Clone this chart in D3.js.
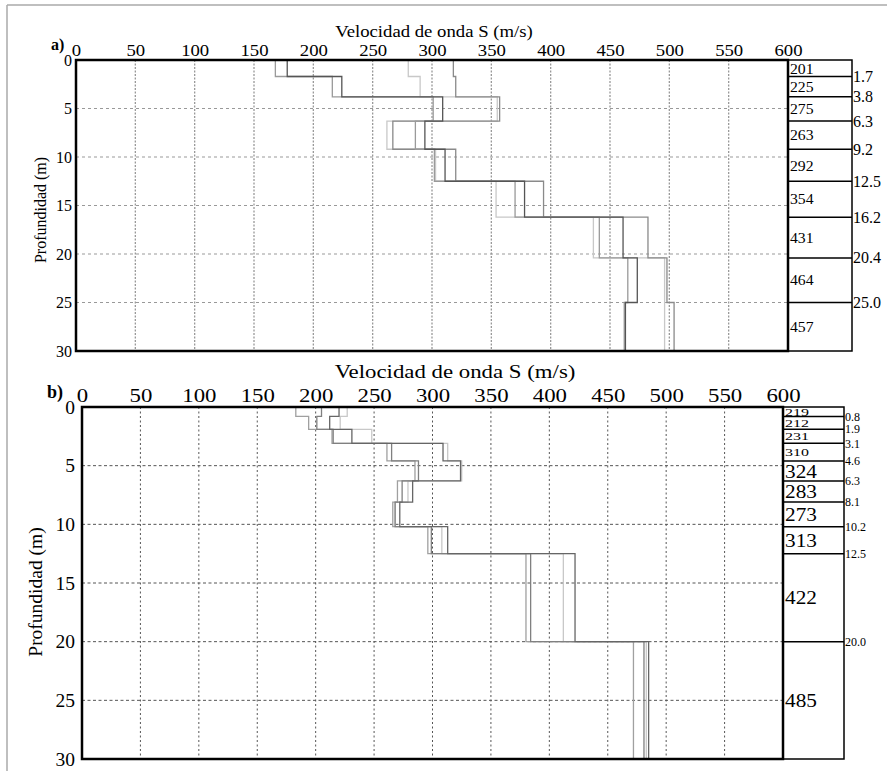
<!DOCTYPE html>
<html>
<head>
<meta charset="utf-8">
<script src="https://cdn.jsdelivr.net/npm/d3@7"></script>
<style>
  body { margin: 0; background: #fff; }
  svg text { font-family: "Liberation Serif", "Times New Roman", "DejaVu Serif", serif; }
</style>
</head>
<body>
<div id="chart"></div>
<script>
// ---- data ----
var xTicks = [0, 50, 100, 150, 200, 250, 300, 350, 400, 450, 500, 550, 600];
var yTicks = [0, 5, 10, 15, 20, 25, 30];

// panel a) layer tops/bottoms (m) and mean velocities
var depthsA = [0, 1.7, 3.8, 6.3, 9.2, 12.5, 16.2, 20.4, 25.0, 30];
var depthLabelsA = ["1.7", "3.8", "6.3", "9.2", "12.5", "16.2", "20.4", "25.0"];
var meanA = [201, 225, 275, 263, 292, 354, 431, 464, 457];
// individual profiles
var profA1 = [178, 224, 309, 294, 311, 378, 461, 473, 463];
var profA2 = [168, 216, 301, 286, 302, 370, 441, 465, 462];
var profA3 = [318, 320, 357, 267, 320, 394, 482, 498, 504];
var profA4 = [280, 290, 355, 262, 303, 354, 436, 496, 496];

// panel b)
var depthsB = [0, 0.8, 1.9, 3.1, 4.6, 6.3, 8.1, 10.2, 12.5, 20.0, 30];
var depthLabelsB = ["0.8", "1.9", "3.1", "4.6", "6.3", "8.1", "10.2", "12.5", "20.0"];
var meanB = [219, 212, 231, 310, 324, 283, 273, 313, 422, 485];
var profB1 = [205, 201, 215, 265, 288, 274, 268, 299, 384, 481];
var profB2 = [220, 212, 231, 309, 324, 283, 272, 313, 422, 485];
var profB3 = [183, 194, 214, 261, 285, 270, 266, 296, 380, 472];
var profB4 = [227, 221, 248, 313, 325, 279, 268, 308, 412, 483];

var W = 887, H = 771;
var FONT = "Liberation Serif";
var svg = d3.select("#chart").append("svg").attr("width", W).attr("height", H)
  .attr("font-family", FONT);

// light outer frame (top and left only, as in the scan)
svg.append("line").attr("x1", 7).attr("x2", W).attr("y1", 5).attr("y2", 5)
   .attr("stroke", "#aaa").attr("stroke-width", 1.5);
svg.append("line").attr("x1", 7).attr("x2", 7).attr("y1", 5).attr("y2", H)
   .attr("stroke", "#aaa").attr("stroke-width", 1.5);

function stepPoints(prof, depths) {
  var pts = [];
  prof.forEach(function(v, i) {
    pts.push([v, depths[i]]);
    pts.push([v, depths[i + 1]]);
  });
  return pts;
}

// the scanned figure is a bit wider than tall, so its lettering looks stretched
function wideText(g, x, y, sx, size, str) {
  return g.append("text")
    .attr("transform", "translate(" + x + "," + y + ") scale(" + sx + ",1)")
    .attr("font-size", size).text(str);
}

function drawPanel(o) {
  var x = d3.scaleLinear().domain([0, 600]).range([o.left, o.right]);
  var y = d3.scaleLinear().domain([0, 30]).range([o.top, o.bottom]);
  var g = svg.append("g");

  // grid
  g.selectAll(".vg").data(xTicks.slice(1, -1)).enter().append("line")
    .attr("x1", function(d){ return x(d); }).attr("x2", function(d){ return x(d); })
    .attr("y1", o.top).attr("y2", o.bottom)
    .attr("stroke", o.gridColor).attr("stroke-width", o.gridW)
    .attr("stroke-dasharray", o.vDash);
  g.selectAll(".hg").data(yTicks.slice(1, -1)).enter().append("line")
    .attr("x1", o.left).attr("x2", o.right)
    .attr("y1", function(d){ return y(d); }).attr("y2", function(d){ return y(d); })
    .attr("stroke", o.gridColor).attr("stroke-width", 1)
    .attr("stroke-dasharray", o.hDash);

  // profiles
  var line = d3.line().x(function(d){ return x(d[0]); }).y(function(d){ return y(d[1]); });
  o.profiles.forEach(function(p, i) {
    g.append("path").attr("d", line(stepPoints(p, o.depths)))
      .attr("fill", "none").attr("stroke", o.profColors[i]).attr("stroke-width", 1.3);
  });

  // plot frame
  g.append("rect").attr("x", o.left).attr("y", o.top)
    .attr("width", o.right - o.left).attr("height", o.bottom - o.top)
    .attr("fill", "none").attr("stroke", "#000").attr("stroke-width", 2.5);

  // axes (labels only)
  var xAxis = d3.axisTop(x).tickValues(xTicks).tickSize(0).tickPadding(o.xPad);
  var ax = g.append("g").attr("transform", "translate(0," + o.top + ")").call(xAxis);
  ax.attr("font-family", FONT).attr("font-size", o.tickFont);
  ax.select(".domain").remove();
  ax.selectAll("text").attr("fill", "#000").attr("transform", "scale(" + o.sx + ",1)");
  var yAxis = d3.axisLeft(y).tickValues(yTicks).tickSize(0).tickPadding(o.yPad);
  var ay = g.append("g").attr("transform", "translate(" + o.left + ",0)").call(yAxis);
  ay.attr("font-family", FONT).attr("font-size", o.tickFont);
  ay.select(".domain").remove();
  ay.selectAll("text").attr("fill", "#000");

  wideText(g, o.titleX, o.titleY, o.sx, o.titleFont, "Velocidad de onda S (m/s)")
    .attr("text-anchor", "middle");
  g.append("text").attr("transform", "translate(" + o.ylabX + "," + o.ylabY + ") rotate(-90)")
    .attr("text-anchor", "middle").attr("font-size", o.titleFont).text("Profundidad (m)");
  g.append("text").attr("x", o.tagX).attr("y", o.tagY).attr("font-weight", "bold")
    .attr("font-size", o.tagFont).text(o.tag);

  // layer column
  g.append("rect").attr("x", o.right).attr("y", o.top)
    .attr("width", o.colRight - o.right).attr("height", o.bottom - o.top)
    .attr("fill", "none").attr("stroke", "#000").attr("stroke-width", 1.5);
  var inner = o.depths.slice(1, -1);
  g.selectAll(".lb").data(inner).enter().append("line")
    .attr("x1", o.right).attr("x2", o.colRight)
    .attr("y1", function(d){ return y(d); }).attr("y2", function(d){ return y(d); })
    .attr("stroke", "#000").attr("stroke-width", 1.5);
  g.selectAll(".dl").data(inner).enter().append("text")
    .attr("x", o.colRight + 1).attr("y", function(d){ return y(d); })
    .attr("dy", "0.35em").attr("font-size", o.depthFont)
    .text(function(d, i){ return o.depthLabels[i]; });
  o.means.forEach(function(d, i) {
    var thick = o.depths[i + 1] - o.depths[i];
    var size = thick < 1.6 ? o.meanFontThin : o.meanFont;
    var sx = thick < 1.6 ? o.meanSxThin : o.meanSx;
    var cy = (y(o.depths[i]) + y(o.depths[i + 1])) / 2;
    wideText(g, o.right + 2, cy, sx, size, d).attr("dy", "0.35em");
  });
}

drawPanel({
  left: 76, right: 788, top: 60, bottom: 351, colRight: 852,
  depths: depthsA, depthLabels: depthLabelsA, means: meanA,
  profiles: [profA4, profA3, profA2, profA1],
  profColors: ["#c8c8c8", "#8a8a8a", "#9a9a9a", "#555"],
  gridColor: "#999", gridW: 1.3, vDash: "2,1.5", hDash: "3,3",
  tickFont: 16, titleFont: 16, sx: 1.17, depthFont: 16, tagFont: 16,
  meanFont: 15, meanFontThin: 15, meanSx: 1.05, meanSxThin: 1.05, xPad: 4, yPad: 4,
  titleX: 434, titleY: 37, ylabX: 46, ylabY: 210, tag: "a)", tagX: 51, tagY: 50
});

drawPanel({
  left: 82, right: 783, top: 407, bottom: 759, colRight: 844,
  depths: depthsB, depthLabels: depthLabelsB, means: meanB,
  profiles: [profB4, profB3, profB1, profB2],
  profColors: ["#c8c8c8", "#a0a0a0", "#808080", "#666"],
  gridColor: "#555", gridW: 1, vDash: "2,2.5", hDash: "3,2.5",
  tickFont: 19.5, titleFont: 19.5, sx: 1.17, depthFont: 12, tagFont: 18,
  meanFont: 19, meanFontThin: 11, meanSx: 1.12, meanSxThin: 1.45, xPad: 5, yPad: 7,
  titleX: 455, titleY: 378, ylabX: 42, ylabY: 592, tag: "b)", tagX: 47, tagY: 398
});
</script>
</body>
</html>
